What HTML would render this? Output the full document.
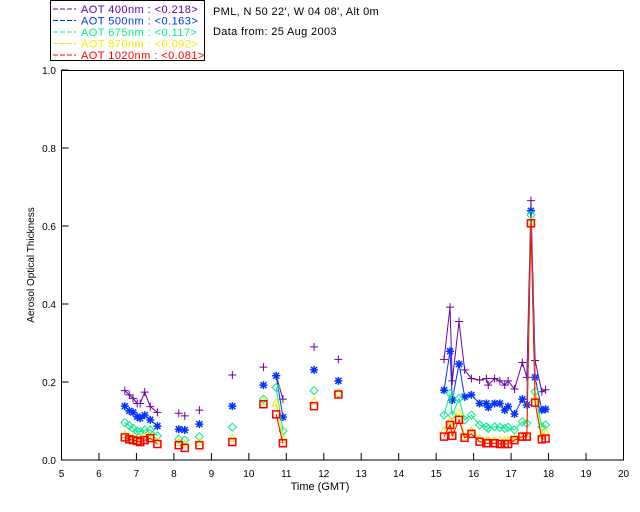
<!DOCTYPE html>
<html><head><meta charset="utf-8"><style>
body{margin:0;background:#fff;}
svg{display:block;font-family:"Liberation Sans",sans-serif;}
</style></head><body>
<svg width="640" height="512" viewBox="0 0 640 512">
<g id="legend">
<rect x="50.5" y="0.5" width="154" height="60" fill="#fff" stroke="#000"/>
</g>
<text x="213" y="15" font-size="11" letter-spacing="0.35">PML, N 50 22', W 04 08', Alt 0m</text>
<text x="213" y="35" font-size="11" letter-spacing="0.35">Data from: 25 Aug 2003</text>
<rect x="61.5" y="70.5" width="562" height="389.5" fill="none" stroke="#000"/>
<g id="axes"></g>
<g id="marks"></g>
<text x="320" y="490" font-size="11" text-anchor="middle">Time (GMT)</text>
<text transform="translate(34,265) rotate(-90)" font-size="10" text-anchor="middle">Aerosol Optical Thickness</text>
</svg>
<script>
const seriesNames=["AOT  400nm","AOT  500nm","AOT  675nm","AOT  870nm","AOT 1020nm"];
const seriesMeans=["<0.218>","<0.163>","<0.117>","<0.092>","<0.081>"];
const colors=["#6a00a8","#0033ff","#00ee88","#eeee00","#ff0000"];
const xTicks=[5,6,7,8,9,10,11,12,13,14,15,16,17,18,19,20];
const yTicks=[0,0.2,0.4,0.6,0.8,1.0];
const times=[
[6.69,6.81,6.91,7.02,7.10,7.22,7.37,7.56],
[8.13],[8.29],[8.68],[9.56],[10.39],
[10.73,10.91],[11.74],[12.39],
[15.21,15.37,15.43,15.61,15.76,15.94,16.16,16.34,16.39,16.56,16.70,16.83,16.92,17.09,17.30,17.42,17.53,17.64,17.82,17.92]
];
const aot400=[[0.178,0.167,0.158,0.145,0.145,0.174,0.137,0.122],[0.12],[0.113],[0.128],[0.218],[0.238],[0.216,0.156],[0.29],[0.258],
[0.258,0.392,0.203,0.355,0.231,0.209,0.205,0.209,0.192,0.209,0.203,0.192,0.203,0.182,0.25,0.212,0.665,0.255,0.175,0.18]];
const aot500=[[0.138,0.126,0.122,0.111,0.107,0.115,0.103,0.087],[0.079],[0.077],[0.092],[0.138],[0.192],[0.216,0.11],[0.231],[0.203],
[0.179,0.279,0.154,0.246,0.162,0.167,0.145,0.145,0.135,0.145,0.145,0.128,0.137,0.118,0.156,0.141,0.639,0.212,0.128,0.13]];
const aot675=[[0.096,0.088,0.081,0.074,0.073,0.077,0.077,0.062],[0.053],[0.051],[0.06],[0.084],[0.156],[0.186,0.074],[0.178],[0.171],
[0.115,0.171,0.115,0.158,0.103,0.115,0.09,0.085,0.081,0.085,0.084,0.081,0.084,0.077,0.098,0.094,0.628,0.175,0.085,0.09]];
const aot870=[[0.065,0.06,0.057,0.054,0.053,0.058,0.062,0.048],[0.045],[0.04],[0.045],[0.055],[0.15],[0.146,0.053],[0.15],[0.172],
[0.075,0.1,0.07,0.12,0.06,0.075,0.055,0.05,0.05,0.05,0.05,0.05,0.05,0.055,0.06,0.06,0.61,0.16,0.065,0.07]];
const aot1020=[[0.058,0.053,0.051,0.049,0.046,0.051,0.056,0.041],[0.038],[0.031],[0.038],[0.046],[0.143],[0.117,0.043],[0.138],[0.168],
[0.06,0.09,0.062,0.103,0.057,0.067,0.047,0.043,0.043,0.043,0.041,0.041,0.041,0.051,0.06,0.06,0.607,0.147,0.053,0.055]];
const allSeries=[aot400,aot500,aot675,aot870,aot1020];
const NS="http://www.w3.org/2000/svg";
const X0=61.5,X1=623.5,Y0=460,Y1=70;
function xs(t){return X0+(t-5)/15*(X1-X0);}
function ys(v){return Y0-v*(Y0-Y1);}
function mk(tag,attrs,parent){const e=document.createElementNS(NS,tag);for(const k in attrs)e.setAttribute(k,attrs[k]);parent.appendChild(e);return e;}
const axes=document.getElementById('axes'),marks=document.getElementById('marks'),legend=document.getElementById('legend');
xTicks.forEach(t=>{const x=xs(t);
 const l=mk('line',{x1:x,x2:x,y1:Y0,y2:Y0-7,stroke:'#000'},axes);
 
 
 const tx=mk('text',{x:x,y:477,'font-size':10,'text-anchor':'middle'},axes);tx.textContent=t;
 
 
});
yTicks.forEach(v=>{const y=ys(v);
 const l=mk('line',{x1:X0,x2:X0+7,y1:y,y2:y,stroke:'#000'},axes);
 
 
 const tx=mk('text',{x:56,y:y+4,'font-size':10,'text-anchor':'end'},axes);tx.textContent=v.toFixed(1);
 
 
});
function marker(si,x,y,c,g){
 const s=4;let e;
 if(si===0){e=mk('path',{d:`M${x-s} ${y}H${x+s}M${x} ${y-s}V${y+s}`,stroke:c,fill:'none'},g);}
 else if(si===1){e=mk('path',{d:`M${x-s} ${y}H${x+s}M${x} ${y-s}V${y+s}M${x-3} ${y-3}L${x+3} ${y+3}M${x-3} ${y+3}L${x+3} ${y-3}`,stroke:c,fill:'none','stroke-width':1.5},g);}
 else if(si===2){e=mk('path',{d:`M${x} ${y-s}L${x+s} ${y}L${x} ${y+s}L${x-s} ${y}Z`,stroke:c,fill:'none'},g);}
 else if(si===3){e=mk('path',{d:`M${x} ${y-s}L${x+s} ${y+3}L${x-s} ${y+3}Z`,stroke:c,fill:'none'},g);}
 else {e=mk('rect',{x:x-3.5,y:y-3.5,width:7,height:7,stroke:c,fill:'none','stroke-width':1.5},g);}
 
 
}
allSeries.forEach((ser,si)=>{
 const g=mk('g',{},marks);
 
 
 ser.forEach((grp,gi)=>{
  const pts=grp.map((v,i)=>[xs(times[gi][i]),ys(v)]);
  if(pts.length>1){const p=mk('polyline',{points:pts.map(q=>q.join(',')).join(' '),fill:'none',stroke:colors[si]},g);
   
   }
  pts.forEach(q=>marker(si,q[0],q[1],colors[si],g));
 });
 const ly=13+si*11.5;
 const ll=mk('line',{x1:53,x2:76,y1:ly-4,y2:ly-4,stroke:colors[si],'stroke-dasharray':'5,2'},legend);
 
 
 const lt=mk('text',{x:81,y:ly,'font-size':11,'letter-spacing':0.45,fill:colors[si],'xml:space':'preserve'},legend);
 lt.textContent=seriesNames[si]+" : "+seriesMeans[si];
 
 
});
</script>
</body></html>
